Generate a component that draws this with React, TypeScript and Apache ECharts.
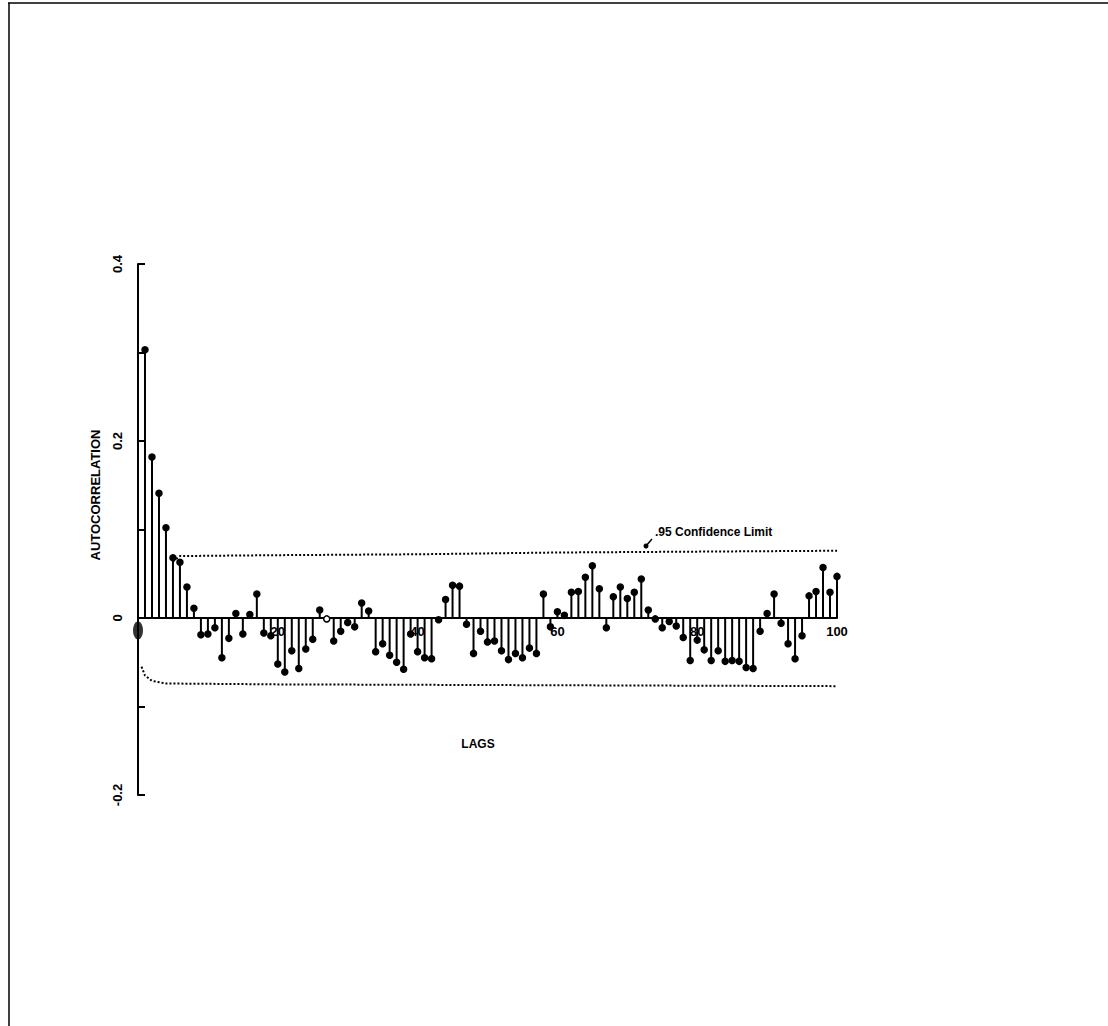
import React, { useEffect, useRef } from "react";
import * as echarts from "echarts";

// Autocorrelation values for lags 1..100
const acf: number[] = [
  0.303, 0.182, 0.141, 0.102, 0.068, 0.063, 0.035, 0.011, -0.019, -0.018,
  -0.011, -0.045, -0.023, 0.005, -0.018, 0.004, 0.027, -0.017, -0.02, -0.052,
  -0.061, -0.037, -0.057, -0.035, -0.024, 0.009, -0.001, -0.026, -0.015, -0.005,
  -0.01, 0.017, 0.008, -0.038, -0.029, -0.042, -0.05, -0.058, -0.018, -0.038,
  -0.045, -0.046, -0.002, 0.021, 0.037, 0.036, -0.007, -0.04, -0.015, -0.027,
  -0.026, -0.037, -0.047, -0.04, -0.045, -0.034, -0.04, 0.027, -0.01, 0.007,
  0.003, 0.029, 0.03, 0.046, 0.059, 0.033, -0.011, 0.024, 0.035, 0.022,
  0.029, 0.044, 0.009, -0.001, -0.011, -0.004, -0.009, -0.022, -0.048, -0.025,
  -0.036, -0.048, -0.037, -0.049, -0.048, -0.049, -0.056, -0.057, -0.015, 0.005,
  0.027, -0.006, -0.029, -0.046, -0.02, 0.025, 0.03, 0.057, 0.029, 0.047,
];
const openMarkerLags: number[] = [27];
const lagZeroMarker: number[][] = [[0, -0.014]];

// .95 confidence limits [lag, value]
const upperLimit: number[][] = [
  [5, 0.064], [6, 0.07], [20, 0.071], [40, 0.072], [60, 0.074], [80, 0.075], [100, 0.076],
];
const lowerLimit: number[][] = [
  [0.5, -0.055], [1, -0.065], [2, -0.071], [4, -0.074], [20, -0.075], [60, -0.076], [100, -0.077],
];

const yTickLabels: Record<string, string> = { "0.4": "0.4", "0.2": "0.2", "0": "0", "-0.2": "-0.2" };
const xTickLabels: Record<string, string> = { "20": "20", "40": "40", "60": "60", "80": "80", "100": "100" };

const FONT = "Liberation Sans";

export default function App() {
  const ref = useRef<HTMLDivElement>(null);
  useEffect(() => {
    if (!ref.current) return;
    const chart = echarts.init(ref.current, null, { renderer: "svg" });
    const stems = acf.map((v, i) => [i + 1, v]);
    chart.setOption({
      animation: false,
      backgroundColor: "#fff",
      grid: { left: 138, right: 271, top: 264, bottom: 231 },
      xAxis: {
        type: "value",
        min: 0,
        max: 100,
        interval: 20,
        offset: -177,
        axisLine: { onZero: false, lineStyle: { color: "#000", width: 2 } },
        axisTick: { show: false },
        splitLine: { show: false },
        axisLabel: {
          color: "#000",
          fontFamily: FONT,
          fontWeight: "bold",
          fontSize: 13,
          margin: 7,
          formatter: (v: number) => xTickLabels[String(Math.round(v))] ?? "",
        },
      },
      yAxis: {
        type: "value",
        min: -0.2,
        max: 0.4,
        interval: 0.1,
        axisLine: { show: true, lineStyle: { color: "#000", width: 2 } },
        axisTick: { show: true, inside: true, length: 7, lineStyle: { color: "#000", width: 2 } },
        splitLine: { show: false },
        axisLabel: {
          rotate: 90,
          margin: 14,
          color: "#000",
          fontFamily: FONT,
          fontWeight: "bold",
          fontSize: 13,
          formatter: (v: number) => yTickLabels[String(Math.round(v * 10) / 10)] ?? "",
        },
      },
      graphic: [
        { type: "line", shape: { x1: 8, y1: 3, x2: 1108, y2: 3 }, style: { stroke: "#000", lineWidth: 1.5 } },
        { type: "line", shape: { x1: 9, y1: 3, x2: 9, y2: 1026 }, style: { stroke: "#000", lineWidth: 1.5 } },
        {
          type: "text",
          x: 95,
          y: 495,
          rotation: Math.PI / 2,
          style: {
            text: "AUTOCORRELATION",
            fill: "#000",
            font: `bold 13px "${FONT}"`,
            textAlign: "center",
            textVerticalAlign: "middle",
          },
        },
        {
          type: "text",
          x: 478,
          y: 744,
          style: {
            text: "LAGS",
            fill: "#000",
            font: `bold 12px "${FONT}"`,
            textAlign: "center",
            textVerticalAlign: "middle",
          },
        },
        {
          type: "text",
          x: 655,
          y: 532,
          style: {
            text: ".95 Confidence Limit",
            fill: "#000",
            font: `bold 12px "${FONT}"`,
            textAlign: "left",
            textVerticalAlign: "middle",
          },
        },
        { type: "line", shape: { x1: 652, y1: 539, x2: 646, y2: 546 }, style: { stroke: "#000", lineWidth: 1.5 } },
        { type: "circle", shape: { cx: 646, cy: 546, r: 2.5 }, style: { fill: "#000" } },
      ],
      series: [
        {
          type: "line",
          data: upperLimit,
          showSymbol: false,
          lineStyle: { color: "#000", width: 2, type: [2, 2] },
          z: 1,
        },
        {
          type: "line",
          data: lowerLimit,
          showSymbol: false,
          lineStyle: { color: "#000", width: 2, type: [2, 2] },
          z: 1,
        },
        {
          type: "custom",
          data: stems,
          z: 3,
          renderItem: (params: any, api: any) => {
            const lag = api.value(0);
            const v = api.value(1);
            const p0 = api.coord([lag, 0]);
            const p1 = api.coord([lag, v]);
            const open = openMarkerLags.includes(lag);
            return {
              type: "group",
              children: [
                {
                  type: "line",
                  shape: { x1: p0[0], y1: p0[1], x2: p1[0], y2: p1[1] },
                  style: { stroke: "#000", lineWidth: 2 },
                },
                {
                  type: "circle",
                  shape: { cx: p1[0], cy: p1[1], r: 3 },
                  style: { fill: open ? "#fff" : "#000", stroke: "#000", lineWidth: 1.5 },
                },
              ],
            };
          },
        },
        {
          type: "scatter",
          data: lagZeroMarker,
          symbol: "circle",
          symbolSize: [10, 18],
          itemStyle: { color: "#000" },
          z: 4,
        },
      ],
    });
    return () => chart.dispose();
  }, []);
  return (
    <div
      ref={ref}
      style={{ position: "fixed", left: 0, top: 0, width: 1108, height: 1026, background: "#fff" }}
    />
  );
}
